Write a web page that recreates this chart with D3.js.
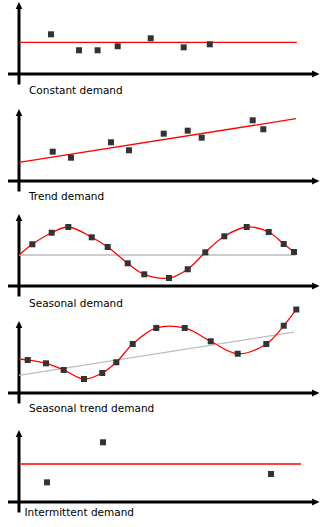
<!DOCTYPE html>
<html>
<head>
<meta charset="utf-8">
<script src="https://cdn.jsdelivr.net/npm/d3@7"></script>
<style>
  html, body { margin: 0; padding: 0; background: #fff; }
  svg { display: block; }
  text { font-family: "DejaVu Sans", Verdana, sans-serif; font-size: 10.5px; fill: #000; }
</style>
</head>
<body>
<svg id="chart" width="335" height="527"></svg>
<script>
// Demand pattern examples: x in weeks, y in demand units

const panelLabels = ["Constant demand", "Trend demand", "Seasonal demand", "Seasonal trend demand", "Intermittent demand"];

// Constant demand
const constantWeeks  = [5.33, 10.0, 13.1, 16.45, 21.95, 27.45, 31.8];
const constantDemand = [5.67, 3.39, 3.39, 3.96, 5.10, 3.81, 4.24];
const constantLevel  = 4.53;
const constantSpan   = [0, 46.3];

// Trend demand
const trendWeeks  = [5.62, 8.67, 15.33, 18.33, 24.12, 28.12, 30.45, 38.95, 40.72];
const trendDemand = [4.19, 3.33, 5.53, 4.39, 6.76, 7.19, 6.19, 8.67, 7.39];
const trendLineWeeks  = [0, 46.17];
const trendLineDemand = [2.67, 8.90];

// Seasonal demand (curve starts at week 0 on the mean level)
const seasonalWeeks  = [2.22, 5.45, 8.22, 12.12, 14.78, 18.12, 20.88, 25.0, 28.12, 31.05, 34.22, 37.95, 41.62, 44.12, 45.83];
const seasonalDemand = [5.96, 7.61, 8.43, 6.96, 5.57, 3.24, 1.67, 1.14, 2.39, 4.81, 7.10, 8.43, 7.71, 6.00, 4.86];
const seasonalStart  = [0, 4.43];
const seasonalMean   = 4.43;
const seasonalSpan   = [0, 46.1];

// Seasonal trend demand
const seasTrendWeeks  = [1.45, 4.5, 7.45, 10.83, 13.88, 16.22, 18.95, 22.88, 27.62, 31.95, 36.45, 41.22, 44.12, 46.22];
const seasTrendDemand = [4.71, 4.24, 3.29, 2.00, 2.86, 4.39, 7.00, 9.29, 9.29, 7.39, 5.61, 7.00, 9.61, 11.93];
const seasTrendStart  = [0, 4.86];
const seasTrendLineWeeks  = [0, 45.88];
const seasTrendLineDemand = [2.53, 8.71];

// Intermittent demand
const intermittentWeeks  = [4.67, 14.0, 42.0];
const intermittentDemand = [2.81, 8.53, 4.00];
const intermittentLevel  = 5.43;
const intermittentSpan   = [0, 47.0];

const RED = "#ff0000", GREY = "#bdbdbd", MARK = "#333333";
const svg = d3.select("#chart");
const x = d3.scaleLinear().domain([0, 50]).range([19, 319]);

// vertical position of each panel's time axis, and label offsets
const axisYs = [74, 181, 286, 393, 502];
const labelDy = [19.5, 19.3, 20.7, 19, 13.7];
const labelX  = [29, 29, 29, 29, 24.5];

const panels = axisYs.map((ay, i) => {
  const g = svg.append("g");
  const y = d3.scaleLinear().domain([0, 10]).range([ay, ay - 70]);
  // axes
  const x0 = x(0);
  g.append("line").attr("x1", x0).attr("x2", x0).attr("y1", ay - 66).attr("y2", ay + 10.5)
    .attr("stroke", "#000").attr("stroke-width", 3);
  g.append("path").attr("d", `M${x0},${ay - 72}L${x0 - 3.3},${ay - 65}L${x0 + 3.3},${ay - 65}Z`).attr("fill", "#000");
  g.append("line").attr("x1", 8).attr("x2", 313).attr("y1", ay).attr("y2", ay)
    .attr("stroke", "#000").attr("stroke-width", 3);
  g.append("path").attr("d", `M319.5,${ay}L312,${ay - 3.5}L312,${ay + 3.5}Z`).attr("fill", "#000");
  g.append("text").attr("x", labelX[i]).attr("y", ay + labelDy[i]).text(panelLabels[i]);
  return { g, y };
});

const straight = d3.line().x(d => x(d[0]));
function drawLine(p, pts, color, curve) {
  const ln = d3.line().x(d => x(d[0])).y(d => p.y(d[1]));
  if (curve) ln.curve(curve);
  p.g.append("path").attr("d", ln(pts)).attr("fill", "none")
    .attr("stroke", color).attr("stroke-width", 1.3);
}
function drawMarks(p, xs, ys) {
  p.g.selectAll(null).data(d3.zip(xs, ys)).join("rect")
    .attr("x", d => x(d[0]) - 3).attr("y", d => p.y(d[1]) - 3)
    .attr("width", 6).attr("height", 6).attr("fill", MARK);
}

// 1. Constant
drawLine(panels[0], constantSpan.map(w => [w, constantLevel]), RED);
drawMarks(panels[0], constantWeeks, constantDemand);

// 2. Trend
drawLine(panels[1], d3.zip(trendLineWeeks, trendLineDemand), RED);
drawMarks(panels[1], trendWeeks, trendDemand);

// 3. Seasonal
drawLine(panels[2], seasonalSpan.map(w => [w, seasonalMean]), GREY);
drawLine(panels[2], [seasonalStart, ...d3.zip(seasonalWeeks, seasonalDemand)], RED, d3.curveCatmullRom);
drawMarks(panels[2], seasonalWeeks, seasonalDemand);

// 4. Seasonal trend
drawLine(panels[3], d3.zip(seasTrendLineWeeks, seasTrendLineDemand), GREY);
drawLine(panels[3], [seasTrendStart, ...d3.zip(seasTrendWeeks, seasTrendDemand)], RED, d3.curveCatmullRom);
drawMarks(panels[3], seasTrendWeeks, seasTrendDemand);

// 5. Intermittent
drawLine(panels[4], intermittentSpan.map(w => [w, intermittentLevel]), RED);
drawMarks(panels[4], intermittentWeeks, intermittentDemand);
</script>
</body>
</html>
